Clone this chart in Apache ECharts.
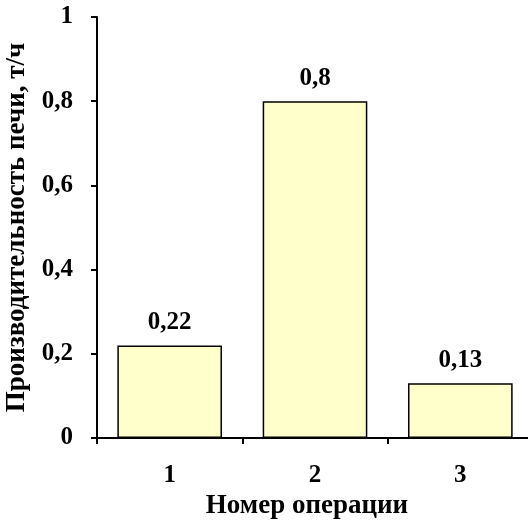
<!DOCTYPE html>
<html><head><meta charset="utf-8">
<script src="https://cdn.jsdelivr.net/npm/echarts@6/dist/echarts.min.js"></script>
<style>html,body{margin:0;padding:0;background:#fff}#c{width:528px;height:520px}</style>
</head><body><div id="c"></div>
<script>
const categories = ['1', '2', '3'];
const values = [0.22, 0.8, 0.13];
const yTicks = [0, 0.2, 0.4, 0.6, 0.8, 1];
const xName = 'Номер операции';
const yName = 'Производительность печи, т/ч';

const fmt = v => String(v).replace('.', ',');
const font = '"Liberation Serif", "Times New Roman", serif';
const chart = echarts.init(document.getElementById('c'), null, {renderer: 'canvas'});
chart.setOption({
  animation: false,
  grid: {left: 97, top: 17, width: 436, height: 421, containLabel: false, outerBoundsMode: 'none'},
  xAxis: {
    type: 'category', data: categories,
    name: xName, nameLocation: 'middle', nameGap: 53,
    nameTextStyle: {fontFamily: font, fontWeight: 'bold', fontSize: 27, color: '#000', padding: [0, 16, 0, 0]},
    axisLine: {lineStyle: {color: '#000', width: 2}},
    axisTick: {show: true, alignWithLabel: false, length: 6, lineStyle: {color: '#000', width: 2}},
    axisLabel: {margin: 25, fontFamily: font, fontWeight: 'bold', fontSize: 25, color: '#000'}
  },
  yAxis: {
    type: 'value', min: yTicks[0], max: yTicks[yTicks.length - 1], interval: 0.2,
    name: yName, nameLocation: 'middle', nameGap: 58, nameRotate: 90,
    nameTextStyle: {fontFamily: font, fontWeight: 'bold', fontSize: 27, color: '#000'},
    axisLine: {show: true, lineStyle: {color: '#000', width: 2}},
    axisTick: {show: true, length: 6, lineStyle: {color: '#000', width: 2}},
    splitLine: {show: false},
    axisLabel: {margin: 24, fontFamily: font, fontWeight: 'bold', fontSize: 25, color: '#000',
      formatter: v => fmt(v)}
  },
  series: [{
    type: 'bar', data: values, barWidth: '72%',
    itemStyle: {color: '#FFFFCC', borderColor: '#000', borderWidth: 1.5},
    label: {show: true, position: 'top', distance: 10, fontFamily: font, fontWeight: 'bold',
      fontSize: 25, color: '#000', formatter: p => fmt(p.value)}
  }]
});
</script></body></html>
